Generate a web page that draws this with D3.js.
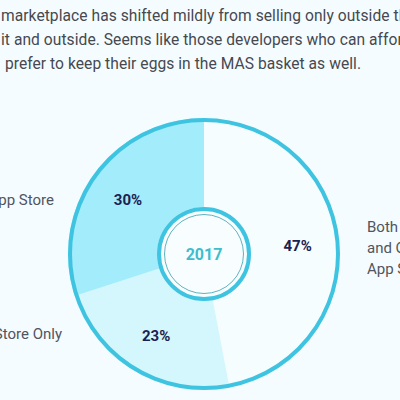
<!DOCTYPE html>
<html lang="en">
<head>
    <meta charset="UTF-8"/>
    <title>MAS donut 2017</title>
    <script src="https://d3js.org/d3.v7.min.js"></script>
    <style>
        body, html {
            margin: 0;
            padding: 0;
            background: #f5fcff;
            overflow: hidden;
        }
        svg {
            display: block;
            font-family: Roboto, "Open Sans", sans-serif;
        }
    </style>
</head>
<body>
<svg class="chart" width="400" height="400"></svg>
<script>
    // data
    const categories = ["Both Outside and On Mac App Store", "Outside App Store Only", "Mac App Store"];
    const shares = [47, 23, 30];
    const year = "2017";
    const introLines = [
        "marketplace has shifted mildly from selling only outside the",
        "it and outside. Seems like those developers who can afford",
        " prefer to keep their eggs in the MAS basket as well."
    ];
    const leftLabels = ["Mac App Store", "Outside App Store Only"];
    const rightLabel = ["Both Outside", "and On Mac", "App Store"];

    const svg = d3.select(".chart");
    const cx = 204, cy = 254;
    const outerR = 136, holeR = 47;
    const fills = ["#f6fdff", "#d3f7fd", "#a3ecfb"];

    // intro paragraph, cut off at the left edge like the page
    svg.append("g")
        .selectAll("text")
        .data(introLines)
        .enter()
        .append("text")
        .attr("x", 1)
        .attr("y", (d, i) => 21 + i * 24)
        .attr("fill", "#46494f")
        .attr("font-size", "15.6px")
        .attr("letter-spacing", "0.05px")
        .attr("xml:space", "preserve")
        .text(d => d);

    const g = svg.append("g").attr("transform", `translate(${cx},${cy})`);

    const pie = d3.pie().sort(null).value(d => d);
    const arcs = pie(shares);
    const arc = d3.arc().innerRadius(holeR).outerRadius(outerR);

    g.selectAll("path.slice")
        .data(arcs)
        .enter()
        .append("path")
        .attr("class", "slice")
        .attr("d", arc)
        .attr("fill", (d, i) => fills[i]);

    // outer ring
    g.append("circle")
        .attr("r", outerR - 2)
        .attr("fill", "none")
        .attr("stroke", "#3ec4e1")
        .attr("stroke-width", 4);

    // center badge
    g.append("circle")
        .attr("r", holeR - 2)
        .attr("fill", "#f8feff")
        .attr("stroke", "#3ec4e1")
        .attr("stroke-width", 4);
    g.append("circle")
        .attr("r", 39.5)
        .attr("fill", "none")
        .attr("stroke", "#5fb3bf")
        .attr("stroke-width", 1);
    g.append("text")
        .attr("text-anchor", "middle")
        .attr("dy", "0.36em")
        .attr("fill", "#3fbdcc")
        .attr("font-size", "16px")
        .attr("font-weight", "bold")
        .text(year);

    // percent labels
    const labelArc = d3.arc().innerRadius(94).outerRadius(94);
    g.selectAll("text.pct")
        .data(arcs)
        .enter()
        .append("text")
        .attr("class", "pct")
        .attr("transform", d => `translate(${labelArc.centroid(d)})`)
        .attr("text-anchor", "middle")
        .attr("dy", "0.42em")
        .attr("fill", "#1b2150")
        .attr("font-size", "15px")
        .attr("font-weight", "bold")
        .text(d => d.data + "%");

    // side labels
    svg.selectAll("text.left")
        .data(leftLabels)
        .enter()
        .append("text")
        .attr("class", "left")
        .attr("x", (d, i) => i === 0 ? 54 : 62)
        .attr("y", (d, i) => i === 0 ? 205 : 339)
        .attr("text-anchor", "end")
        .attr("fill", "#50555e")
        .attr("font-size", "15px")
        .text(d => d);

    svg.append("g")
        .selectAll("text")
        .data(rightLabel)
        .enter()
        .append("text")
        .attr("x", 367)
        .attr("y", (d, i) => 232 + i * 21)
        .attr("fill", "#50555e")
        .attr("font-size", "15px")
        .text(d => d);
</script>
</body>
</html>
